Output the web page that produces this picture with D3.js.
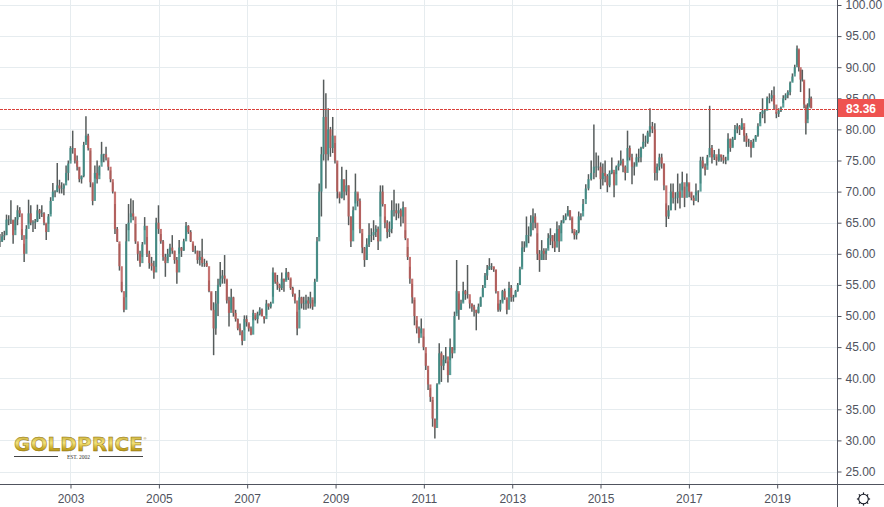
<!DOCTYPE html>
<html>
<head>
<meta charset="utf-8">
<script src="https://cdn.jsdelivr.net/npm/d3@7/dist/d3.min.js"></script>
<style>
  html, body { margin: 0; padding: 0; background: #fff; overflow: hidden; }
  text { font-family: "Liberation Sans", Arial, sans-serif; }
</style>
</head>
<body>
<div id="chart"></div>
<script>
// Candle values, one entry per candle, oldest first
const highs = [
  63.2,63.5,63.7,66.3,66.2,68.6,65.4,65.9,67.8,67.5,64,61.6,64.6,68.7,67.8,65.4,65.6,67.9,67.2,67.8,66.7,64.8,66.4,69.1,71.4,70.2,74.6,71.9,71.5,71.3,74.2,75,77.3,79.8,76.1,75.8,73.9,72.6,78,82.1,79.3,76.6,71.3,74.2,75,74.2,78,76.1,77.2,75,73.4,71.5,68,64.3,61.6,55.5,53,64.8,68,68.9,68.6,64.8,61.6,60.5,61.9,65.9,62.7,60.5,59.5,58.9,65.8,67.8,63.2,62.2,60,60.8,61.6,63,60.5,59.5,62.2,61.1,62.4,65.1,64.6,63.8,61.6,61.3,60.5,60.5,62.4,59.2,58.9,55.7,53.8,52.2,54,56,
  58.7,57.4,59.8,55.8,53.1,54.4,53.1,51,49.6,48.8,47.7,50.1,50.1,48.8,48.3,51,50.1,50.7,51.4,51.2,49.9,52.6,52,52.3,57.8,56.9,56.6,55.2,57,56,57.7,57.1,56,54.7,53.6,50.7,54.2,53.1,53.1,53.4,53.1,53.9,52.6,56,62.7,71.3,77.2,88,85.8,83.4,80.4,82,77.8,74.5,69.7,74,71.9,73.5,71,66,67.6,72.9,69.7,68.9,63.3,61.1,62.5,64.9,64.1,65.4,64.6,64.4,71,71,66,65.4,65.2,68.6,70.3,68.1,68.1,67.3,68.4,63.8,61.1,57.9,55.2,52.6,49.3,48.3,49.6,46.7,44,
  41.3,38.4,36.5,33.5,39.2,45.6,44.3,43.7,45,42.7,46.4,45,50.7,59,53.6,52.6,55.5,54.2,58.2,52.6,52,51.8,51,52,53.1,55,56.9,58.2,59.3,58.5,57.9,57.4,52,52.6,54.2,54.4,52.6,55.5,55,53.4,54.2,55.3,57.9,62,62,66,64.4,66.2,67.3,66.5,63.3,60.6,62.2,60.9,60.9,63.3,64.1,63,63.3,65.2,64.6,65.4,66.2,66.5,67.7,67,65.7,63.6,63.8,66.8,66.5,
  68.8,71.2,72.8,75,80.8,76.3,75.8,74.7,74.5,75,72.8,73.4,75.5,73.1,74.2,75,76.6,75.3,74.2,79.8,77.4,76.1,74.7,76.1,76.9,77.2,79.3,79,79.8,
  83.4,81.2,81,74.5,76.1,76.1,74.5,68.1,67.8,71.3,71.3,69.9,72.9,71.3,73.2,70.8,72.9,71.3,69.9,69.4,71.3,70.2,75.6,75.6,74.5,75.9,83.8,77.5,76.7,75.6,76.9,75.9,75.9,75.6,79.4,78.5,78.8,80.7,81,80.7,81.8,80.4,79.4,78.5,78.3,78.5,79.1,81,82.8,85,83.1,85.3,85.8,86.3,86.9,82.8,83.4,83.7,85.5,85.8,86.3,87.7,89,90.4,93.5,92.8,89.6,89.6,87.7,83.7,84.2,86.6,85.3
];
const lows = [
  61.1,61.9,62.2,63,64.6,64.8,61.6,63.8,64.6,65.9,62.2,58.7,62.4,64.8,64.6,63.5,64,65.1,65.6,65.9,64.6,62.2,64.8,66.4,69.1,69.1,69.9,69.7,69.7,69.4,71.5,71.8,75,76.1,74.5,73.4,71.5,71.3,72.3,78,76.6,70.7,67.8,72.1,71.3,72.6,74.7,74.7,75,73.4,71.5,69.7,63.2,61.9,57.3,53.8,50.6,53,63.8,65.9,65.4,61.6,58.9,57.9,59.5,63.8,59.5,57.6,57.3,56,57.9,63.2,61.6,58.9,56.3,58.9,59.5,60,58.4,55.2,60,59.5,60.5,62.4,63.2,61.9,60.3,60,58.4,58.1,57.9,57.9,57.9,53.8,50.9,43.7,47,50,
  54.7,55.2,55.2,52,48.3,51,49.9,49.1,47.7,46.9,45.3,47.7,48.3,47.5,46.9,49.3,49.3,48.8,50.1,49.9,48.8,50.1,51,51.2,53.1,55.2,54.2,53.9,54.2,53.9,55.8,55.8,54.2,53.1,52,46.9,51,51.2,51,51,51.2,51.2,51,52,56,62.7,66,75,70.5,75,75.6,76.2,74.5,68.9,68.1,68.9,68.6,69.4,64.6,61.1,63.8,68.1,67.6,63.3,60.1,57.9,59,61.1,61.9,62.2,62.7,60.6,66,67.6,64.1,62.5,62.7,63.3,66,65.4,65.7,64.4,64.9,62.2,59,55.2,52,48.5,47.2,45.6,47.2,44.5,41.3,
  38.1,36.2,32.2,30.3,33.3,39.2,39.4,41.3,42.4,39.3,42.9,43.2,44.5,50.4,49.4,51,52.3,52.6,52.8,51.2,50.7,49.9,47.7,50.4,51.5,53.1,55,55.8,57.4,57.4,57.1,53.6,50.7,50.7,52.3,52.6,50.3,53.1,52.3,52.3,53.1,53.9,55,57.9,60.3,61.2,61.7,62.8,63.8,64.1,59,57.1,59,59,59,60.9,61.4,60.9,60.3,62,60.3,63.3,64.9,65.4,66.2,65.4,63.3,62.3,62.3,63.3,65.4,
  66.9,68.8,70.2,71.8,72,72.3,73.4,70.4,71,71.5,69.9,70.7,72.8,69.1,72.8,73.4,74.2,73.1,71.8,75,75,71.2,72.6,74.2,74.7,74.7,76.9,77.2,77.7,
  78.8,79.4,71.8,71.8,73.4,73.7,70.2,64.3,65.6,67,68.1,67,68.1,67.3,70.2,67.5,70.8,69.1,68.6,67.8,69.4,68.3,71.3,73.7,72.6,74.2,75.9,74.5,75.1,74.2,74.8,74.8,74.5,74.4,76.1,76.4,77.2,78.3,79.4,79.1,79.9,78,77.2,77.2,75.5,77.2,78.3,78.8,81,81.8,81,83.1,84.2,84.5,83.1,81.8,82,82.8,84.2,84.7,85,85.5,87.7,89,90.4,89.3,86,87.7,83.4,79.2,81.6,83.7,83.4
];
const closes = [
  62,62.8,63,65.5,65.5,65.5,63,65.5,67,66.5,63,60,64,66.5,65,65,65.2,67,66.5,66.5,65,63.5,66,68.5,70,70,71,70.5,70.5,71,73,74.5,77,77,75,74,72,72.5,77.5,79,77,71.5,68.5,73,72,74,76,76,75.5,74,72,70,64,62,58,54,51,62,65,66.5,66,62,60,58.5,61.5,64.5,60,58.5,58,57,65,64,62,59.5,58.5,60,61,60.5,59,57,61,60.5,62,64.5,63.5,62,60.5,60.5,59,59.5,58.5,58.5,58,54,51,48,52,55,
  56,56.5,56,52.5,50.5,53,50.5,49.5,48,47.5,46,49.5,49,48,47,50.5,49.5,50.3,51,50,49.5,52,51.5,52,57,55.5,55,54.5,56,55.5,57,56.2,54.5,53.5,52.5,48,53,52,52,52.5,52,53,51.5,55.5,62,70,76,82,76,80,77,79,75,70,69,72,70,71,66,62,67,70,68.5,64,61,59,61.5,63,63,63.5,64,62,70,68,65,63.5,64,67,67,66.5,67,66,67.5,62.5,59.5,56,53,50,48,46.5,48,45,42,
  39,37,33.5,32,39,44,42,43,43.5,40.5,45,44,50,54,51,52,54,53.5,53.5,52,51.5,51,50.5,51.5,53,54.5,56.5,57.5,58,58,57.5,54,51,52,54,53,51,54.5,53,53,54,55,57.5,61,61,63,63,65,66,65,60,59,60.5,60,60.5,62.5,63,62,61,64,62,65,65.5,66,67,66,64,63,63.5,66,66,
  68,70.5,72,73,74,74,74,72,73,72.5,71,73,73.5,71,74,74.5,75,74,73,77,75.5,74,74,75.5,75.5,77,78,78,79.5,
  80.5,80,73,74,75.5,74.5,71,66,67,70,69,69,70,69,71.5,69,71.5,70,69,68.5,70,70,75,74,73.5,75.5,77,75.5,76,75,76,75.5,75,75,78.5,77,78.5,80,80.5,80,81,79,78,78,77,78,79,80.5,82.5,83,83,85,85,85.5,84,82.5,83,83.5,85,85.5,86,87.5,88.5,90,93,90,88,88,84,81,83.5,85,83.4
];
// Which candle falls at which point in time (fractional years), read at the main turning points
const dateAnchorCandles = [0, 39, 56, 95, 145, 194, 262, 266, 291, 293, 317, 355, 363];
const dateAnchorYears = [2001.40, 2003.35, 2004.21, 2006.24, 2008.73, 2011.25, 2014.605, 2014.85, 2016.12, 2016.23, 2017.47, 2019.45, 2019.77];
const yearTicks = [2003, 2005, 2007, 2009, 2011, 2013, 2015, 2017, 2019];
const priceTicks = [25, 30, 35, 40, 45, 50, 55, 60, 65, 70, 75, 80, 85, 90, 95, 100];
const lastPrice = 83.36;

const width = 884;
const height = 507;
const plotWidth = 838;
const plotHeight = 484;

const x = d3.scaleUtc()
    .domain([new Date(Date.UTC(2001, 4, 28)), new Date(Date.UTC(2020, 4, 18))])
    .range([0, plotWidth]);
const y = d3.scaleLinear()
    .domain([25, 100])
    .range([471.5, 5]);

const svg = d3.select('#chart')
    .append('svg')
    .attr('width', width)
    .attr('height', height)
    .attr('viewBox', `0 0 ${width} ${height}`)
    .style('display', 'block');

const yearDate = yr => new Date(Date.UTC(yr, 0, 1));

// fractional year -> Date
const fractionalDate = yr => {
    const start = Math.floor(yr);
    return new Date(+yearDate(start) + (yr - start) * (yearDate(start + 1) - yearDate(start)));
};
const candleYear = d3.scaleLinear().domain(dateAnchorCandles).range(dateAnchorYears);

const defs = svg.append('defs');

// The reference is a soft screenshot, candles get a slight blur
defs.append('filter')
    .attr('id', 'soft')
    .append('feGaussianBlur')
    .attr('stdDeviation', 0.4);

// Grid
const grid = svg.append('g').attr('class', 'grid')
    .attr('stroke', '#e6ecef')
    .attr('stroke-width', 1)
    .attr('shape-rendering', 'crispEdges');
grid.selectAll('line.h')
    .data(priceTicks)
    .enter().append('line')
    .attr('class', 'h')
    .attr('x1', 0)
    .attr('x2', plotWidth)
    .attr('y1', d => Math.round(y(d)) + 0.5)
    .attr('y2', d => Math.round(y(d)) + 0.5);
grid.selectAll('line.v')
    .data(yearTicks)
    .enter().append('line')
    .attr('class', 'v')
    .attr('x1', d => Math.round(x(yearDate(d))) + 0.5)
    .attr('x2', d => Math.round(x(yearDate(d))) + 0.5)
    .attr('y1', 0)
    .attr('y2', plotHeight);

// Logo sits under the candles
const logo = svg.append('g').attr('class', 'logo');
const grad = defs.append('linearGradient')
    .attr('id', 'gold')
    .attr('x1', 0).attr('y1', 0).attr('x2', 0).attr('y2', 1);
grad.append('stop').attr('offset', '0%').attr('stop-color', '#b89a1c');
grad.append('stop').attr('offset', '45%').attr('stop-color', '#f3e27a');
grad.append('stop').attr('offset', '70%').attr('stop-color', '#c9a925');
grad.append('stop').attr('offset', '100%').attr('stop-color', '#8f7414');
logo.append('text')
    .attr('x', 14)
    .attr('y', 451)
    .attr('textLength', 129)
    .attr('lengthAdjust', 'spacingAndGlyphs')
    .attr('font-size', 19)
    .attr('font-weight', 700)
    .style('font-family', '"DejaVu Sans", sans-serif')
    .attr('fill', 'url(#gold)')
    .attr('stroke', '#8f7414')
    .attr('stroke-width', 0.5)
    .text('GOLDPRICE');
logo.append('text')
    .attr('x', 143.5)
    .attr('y', 440)
    .attr('font-size', 4)
    .attr('fill', '#8f7414')
    .text('®');
logo.append('text')
    .attr('x', 78.5)
    .attr('y', 458.5)
    .attr('text-anchor', 'middle')
    .attr('font-size', 5.5)
    .style('font-family', '"Liberation Serif", serif')
    .attr('fill', '#333')
    .text('EST. 2002');
logo.selectAll('line')
    .data([[14, 58], [99, 143]])
    .enter().append('line')
    .attr('x1', d => d[0])
    .attr('x2', d => d[1])
    .attr('y1', 456.5)
    .attr('y2', 456.5)
    .attr('stroke', '#444')
    .attr('stroke-width', 1);

// Candles
const candles = closes.map((close, i) => ({
    date: fractionalDate(candleYear(i)),
    open: i > 0 ? closes[i - 1] : close,
    close: close,
    high: highs[i],
    low: lows[i]
}));

const candleGroups = svg.append('g').attr('class', 'candles')
    .attr('filter', 'url(#soft)')
    .selectAll('g')
    .data(candles)
    .enter().append('g');

candleGroups.append('line')
    .attr('x1', d => x(d.date))
    .attr('x2', d => x(d.date))
    .attr('y1', d => y(d.high))
    .attr('y2', d => y(d.low))
    .attr('stroke', '#565c5b')
    .attr('stroke-width', 1.5);

candleGroups.append('rect')
    .attr('x', d => x(d.date) - 1.1)
    .attr('width', 2.2)
    .attr('y', d => y(Math.max(d.open, d.close)))
    .attr('height', d => Math.max(0.6, Math.abs(y(d.open) - y(d.close))))
    .attr('fill', d => d.close >= d.open ? '#3f8f88' : '#bc5c59')
    .attr('fill-opacity', 0.85);

// Last price line
svg.append('line')
    .attr('x1', 0)
    .attr('x2', plotWidth)
    .attr('y1', Math.round(y(lastPrice)) + 0.5)
    .attr('y2', Math.round(y(lastPrice)) + 0.5)
    .attr('stroke', '#d9403a')
    .attr('stroke-width', 1)
    .attr('stroke-dasharray', '3 1');

// Axes
const xAxis = svg.append('g')
    .attr('transform', `translate(0,${plotHeight + 0.5})`)
    .call(d3.axisBottom(x)
        .tickValues(yearTicks.map(yearDate))
        .tickFormat(d3.utcFormat('%Y'))
        .tickSize(4)
        .tickPadding(6));
xAxis.select('.domain').remove();
xAxis.selectAll('text').attr('font-size', 12).attr('fill', '#50535e').style('font-family', null);
xAxis.selectAll('line').attr('stroke', '#50535e');

const yAxis = svg.append('g')
    .attr('transform', `translate(${plotWidth - 0.5},0)`)
    .call(d3.axisRight(y)
        .tickValues(priceTicks)
        .tickFormat(d3.format('.2f'))
        .tickSize(4)
        .tickPadding(4));
yAxis.select('.domain').remove();
yAxis.selectAll('text').attr('font-size', 12).attr('fill', '#50535e').style('font-family', null);
yAxis.selectAll('line').attr('stroke', '#50535e');

svg.append('line')
    .attr('x1', 0).attr('x2', width)
    .attr('y1', plotHeight + 0.5).attr('y2', plotHeight + 0.5)
    .attr('stroke', '#50535e');
svg.append('line')
    .attr('x1', plotWidth - 0.5).attr('x2', plotWidth - 0.5)
    .attr('y1', 0).attr('y2', height)
    .attr('stroke', '#50535e');

// Last price tag
svg.append('rect')
    .attr('x', plotWidth)
    .attr('y', y(lastPrice) - 9.5)
    .attr('width', width - plotWidth)
    .attr('height', 18)
    .attr('fill', '#ef5350');
svg.append('text')
    .attr('x', 846)
    .attr('y', y(lastPrice) + 4)
    .attr('font-size', 12)
    .attr('font-weight', 700)
    .attr('fill', '#fff')
    .text(d3.format('.2f')(lastPrice));

// Settings gear
const gear = svg.append('g')
    .attr('transform', 'translate(863.5,499)')
    .attr('fill', 'none')
    .attr('stroke', '#131722');
gear.append('circle').attr('r', 4.8).attr('stroke-width', 1.1);
gear.selectAll('line')
    .data(d3.range(8))
    .enter().append('line')
    .attr('x1', d => 4.8 * Math.cos(d * Math.PI / 4))
    .attr('y1', d => 4.8 * Math.sin(d * Math.PI / 4))
    .attr('x2', d => 6.6 * Math.cos(d * Math.PI / 4))
    .attr('y2', d => 6.6 * Math.sin(d * Math.PI / 4))
    .attr('stroke-width', 1.2);
</script>
</body>
</html>
